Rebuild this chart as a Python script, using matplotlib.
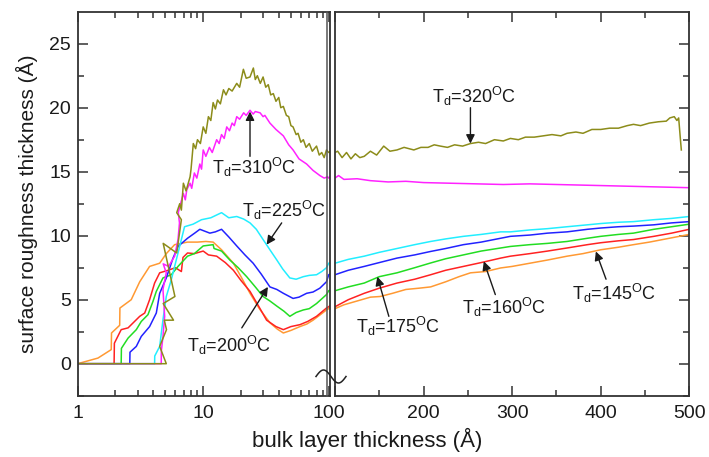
import numpy as np
import matplotlib
matplotlib.use("Agg")
import matplotlib.pyplot as plt
from matplotlib.lines import Line2D
from matplotlib.ticker import FixedLocator, NullFormatter, LogLocator

plt.rcParams['font.family'] = ['Liberation Sans', 'DejaVu Sans']
plt.rcParams['mathtext.fontset'] = 'custom'
plt.rcParams['mathtext.rm'] = 'Liberation Sans'

# ---------------- data ----------------
orange_x = [1, 1.45, 1.85, 1.86, 2.16, 2.17, 2.67, 3.12, 3.74, 4.5, 5.08, 5.92, 7.5, 9, 10.5, 12, 14, 17.4, 20, 23.6,
            28, 34, 39, 43.5, 50, 59, 67, 75, 85, 96, 100, 110, 125, 140, 151, 165, 180, 195, 208, 225, 240, 253,
            270, 287, 300, 320, 340, 362, 380, 400, 420, 437, 455, 470, 485, 500]
orange_y = [0, 0.44, 1.1, 2.4, 3.0, 4.35, 5.0, 6.4, 7.6, 7.85, 8.6, 9.3, 9.5, 9.5, 9.55, 9.5, 8.9, 7.85, 6.8, 5.5,
            4.3, 3.2, 2.7, 2.4, 2.6, 2.9, 3.1, 3.4, 3.8, 4.2, 4.3, 4.6, 4.9, 5.2, 5.25, 5.5, 5.8, 5.9, 6.0, 6.4, 6.8, 7.1,
            7.2, 7.48, 7.6, 7.85, 8.1, 8.4, 8.6, 8.9, 9.1, 9.3, 9.5, 9.7, 9.9, 10.1]

red_x = [1, 1.95, 1.96, 2.22, 2.52, 3.12, 3.42, 3.74, 4.1, 4.5, 5.25, 6.0, 6.7, 6.9, 7.5, 8.5, 10, 11, 12.8, 15,
         17.4, 20, 23.6, 28, 32, 38, 43.5, 50, 59, 68, 80, 96, 100, 115, 133, 150, 170, 190, 208, 225, 245, 265,
         287, 298, 320, 340, 362, 385, 400, 420, 437, 460, 480, 500]
red_y = [0, 0, 1.6, 2.66, 2.8, 3.7, 3.96, 5.0, 6.3, 7.1, 7.3, 7.5, 7.2, 8.3, 8.65, 8.6, 8.8, 8.5, 8.4, 7.9,
         7.3, 6.5, 5.65, 4.4, 3.4, 2.9, 2.66, 2.9, 3.05, 3.3, 3.7, 4.35, 4.45, 5.0, 5.5, 5.9, 6.3, 6.6, 6.95, 7.3, 7.6, 7.9,
         8.25, 8.4, 8.6, 8.8, 9.04, 9.3, 9.45, 9.6, 9.7, 9.95, 10.2, 10.5]

green_x = [1, 2.22, 2.23, 2.52, 2.93, 3.21, 3.63, 3.98, 4.23, 4.78, 5.57, 6.3, 7.5, 8.5, 10, 12, 12.2, 14, 16.3, 19,
           22.2, 26, 30, 34, 38.6, 44, 49, 55, 62.8, 70, 80, 96, 100, 115, 133, 150, 170, 190, 208, 225, 245, 265,
           287, 298, 320, 340, 362, 385, 400, 420, 437, 460, 480, 500]
green_y = [0, 0, 1.2, 2.0, 2.66, 3.3, 3.83, 4.87, 5.65, 6.7, 6.95, 7.6, 8.4, 8.6, 9.2, 9.3, 9.0, 8.8, 8.1, 7.5,
           6.8, 6.0, 5.25, 4.9, 4.5, 4.1, 3.7, 4.0, 4.2, 4.3, 4.7, 5.4, 5.7, 6.0, 6.3, 6.8, 7.1, 7.5, 7.87, 8.2, 8.5, 8.8,
           9.04, 9.16, 9.3, 9.4, 9.55, 9.8, 9.95, 10.1, 10.2, 10.5, 10.7, 10.9]

blue_x = [1, 2.6, 2.61, 2.93, 3.21, 3.74, 4.23, 4.5, 5.08, 5.75, 6.3, 7.5, 8.55, 9.4, 11.3, 12.5, 14, 16, 18.5, 21.5,
          25, 29, 34, 38.6, 43.5, 52, 58, 66.7, 75, 85, 96, 100, 115, 133, 150, 170, 190, 208, 225, 245, 265, 287,
          298, 320, 340, 362, 385, 400, 420, 437, 460, 480, 500]
blue_y = [0, 0, 0.9, 1.35, 2.13, 2.9, 3.96, 5.5, 6.7, 8.25, 9.16, 9.8, 10.2, 10.5, 10.2, 10.3, 10.5, 9.9, 9.2, 8.5,
          7.85, 7.0, 6.0, 5.8, 5.5, 5.1, 5.2, 5.5, 5.6, 5.9, 6.4, 6.95, 7.3, 7.6, 7.9, 8.25, 8.5, 8.77, 9.0, 9.3, 9.5, 9.8,
          9.95, 10.05, 10.2, 10.3, 10.5, 10.6, 10.7, 10.75, 10.85, 11.0, 11.1]

cyan_x = [1, 4.1, 4.11, 4.5, 4.78, 5.08, 5.57, 5.92, 6.3, 6.7, 7.1, 8.3, 9.7, 11.5, 14, 16, 18.5, 21, 23.6, 26.5,
          30, 34, 38.6, 43, 49, 55, 62.8, 70, 80, 88, 96, 100, 115, 133, 150, 170, 190, 208, 225, 245, 265, 287,
          298, 320, 340, 362, 385, 400, 420, 437, 460, 480, 500]
cyan_y = [0, 0, 0.6, 1.35, 3.44, 5.25, 6.56, 7.6, 8.65, 9.7, 10.7, 10.9, 11.25, 11.4, 11.8, 11.4, 11.5, 11.3, 11.0, 10.5,
          9.7, 8.9, 8.1, 7.4, 6.7, 6.6, 6.8, 6.9, 6.95, 7.2, 7.5, 7.85, 8.15, 8.4, 8.7, 9.0, 9.3, 9.55, 9.75, 9.95, 10.1, 10.3,
          10.3, 10.45, 10.55, 10.7, 10.85, 10.95, 11.05, 11.1, 11.25, 11.35, 11.5]

magenta_x = [1, 4.63, 4.64, 4.78, 4.93, 4.78, 5.08, 4.8, 5.3, 5.92, 6.3, 6.47, 6.33, 6.6, 6.95, 7.2, 7.4, 7.86, 8.1,
             8.5, 8.9, 9.4, 9.7, 10, 10.5, 11.2, 11.8, 12.8, 13.4, 14, 14.7, 15.4, 16.2, 17, 17.7, 18.5, 19.5, 21,
             22, 23.6, 25, 26, 28.4, 30, 31, 34, 38, 43.5, 48, 52, 58, 66.7, 75, 85, 92, 98,
             100, 104, 110, 125, 140, 160, 180, 200, 230, 260, 290, 320, 350, 380, 410, 440, 470, 500]
magenta_y = [0, 0, 1.0, 2.13, 3.7, 5.8, 7.1, 7.8, 7.6, 8.4, 9.7, 11.0, 11.8, 12.5, 13.3, 12.8, 13.6, 14.1, 13.7,
             14.9, 14.5, 15.6, 15.2, 16.7, 16.2, 16.9, 16.5, 17.5, 17.2, 17.9, 17.6, 18.5, 18.2, 18.8, 18.6, 19.3, 19.1, 19.6,
             19.4, 19.8, 19.5, 19.7, 19.6, 19.3, 19.4, 18.8, 18.3, 17.8, 17.1, 16.7, 16.0, 15.6, 15.1, 14.7, 14.5, 14.6,
             14.5, 14.7, 14.4, 14.45, 14.3, 14.2, 14.25, 14.15, 14.1, 14.05, 14.0, 14.05, 14.0, 13.95, 13.9, 13.85, 13.8, 13.75]

olive_x = [1, 5.08, 4.5, 5.1, 4.9, 5.8, 4.8, 5.95, 4.8, 6.15, 6.7, 6.15, 6.5, 6.7, 6.95, 7.3, 7.86, 8.0, 8.34, 8.7,
           9.0, 9.5, 10, 10.5, 11, 11.5, 12, 12.5, 13, 13.7, 14.5, 15.2, 16, 17, 18.5, 19.5, 20.9, 22, 23.6, 25.1,
           26, 27, 28.5, 30, 31.5, 33, 34.5, 36.2, 38, 40, 41.5, 43.5, 46, 48, 50, 52, 55, 57, 60, 62.8, 66, 70,
           74, 80, 84, 88, 92, 96,
           100, 103, 108, 113, 118, 123, 128, 133, 140, 147, 155, 162, 170, 178, 189, 197, 205, 212, 219, 227, 235,
           244, 253, 262, 270, 280, 290, 298, 307, 315, 325, 335, 345, 355, 362, 372, 380, 390, 400, 410, 420, 430,
           437, 445, 455, 465, 474, 478, 483, 486, 488, 490, 491]
olive_y = [0, 0, 1.35, 2.66, 3.4, 3.4, 4.7, 5.25, 9.4, 8.65, 11.25, 11.8, 12.5, 12.0, 14.1, 13.5, 14.6, 15.2, 17.2, 16.8,
           17.5, 17.2, 18.5, 18.0, 19.3, 19.0, 20.4, 19.9, 20.6, 20.3, 21.4, 21.0, 21.5, 21.3, 21.9, 21.6, 23.0, 22.3, 22.4, 23.1,
           22.2, 22.5, 21.9, 22.4, 21.6, 21.8, 21.0, 21.1, 20.5, 20.8, 20.0, 20.1, 19.4, 19.3, 18.6, 18.5, 17.9, 18.0, 17.3, 17.5,
           16.9, 17.2, 16.6, 17.0, 16.3, 16.5, 16.1, 16.7,
           16.5, 16.6, 16.1, 16.5, 16.0, 16.4, 16.1, 16.2, 16.6, 16.3, 17.0, 16.6, 16.7, 16.9, 16.7, 16.9, 16.9, 17.1,
           17.0, 16.9, 17.1, 17.0, 17.2, 17.3, 17.2, 17.5, 17.4, 17.6, 17.5, 17.7, 17.7, 17.8, 17.9, 17.8, 18.0, 18.1,
           18.0, 18.3, 18.3, 18.4, 18.4, 18.6, 18.7, 18.6, 18.8, 18.9, 18.95, 19.2, 19.3, 19.0, 19.2, 17.5, 16.7]

series = [
    (orange_x, orange_y, '#FF9933'),
    (red_x, red_y, '#FF2222'),
    (green_x, green_y, '#22DD22'),
    (blue_x, blue_y, '#2222FF'),
    (cyan_x, cyan_y, '#22EEFF'),
    (magenta_x, magenta_y, '#FF22FF'),
    (olive_x, olive_y, '#8C8C1A'),
]

y_ticks = [0, 5, 10, 15, 20, 25]
left_xticks = [1, 10, 100]
right_xticks = [200, 300, 400, 500]

# ---------------- figure ----------------
W, H = 709, 457
fig = plt.figure(figsize=(W / 100, H / 100), dpi=100)

def fx(px):
    return px / W

def fy(py):
    return 1 - py / H

top, bottom = 11.7, 395.7
axL = fig.add_axes([fx(77.7), fy(bottom), fx(330 - 77.7), fy(top) - fy(bottom)])
axR = fig.add_axes([fx(335), fy(bottom), fx(689.3 - 335), fy(top) - fy(bottom)])

for xs, ys, c in series:
    axL.plot(xs, ys, color=c, lw=1.1)
    axR.plot(xs, ys, color=c, lw=1.1)

axL.set_xscale('log')
axL.set_xlim(1, 102.4)
axR.set_xlim(100, 500)
for ax in (axL, axR):
    ax.set_ylim(-2.5, 27.5)
    for s in ax.spines.values():
        s.set_color('#333333')
        s.set_linewidth(1.3)

txtc = '#1a1a1a'
axL.set_yticks(y_ticks)
axL.yaxis.set_minor_locator(FixedLocator([-2.5, 2.5, 7.5, 12.5, 17.5, 22.5]))
axL.set_xticks(left_xticks)
axL.set_xticklabels([str(v) for v in left_xticks])
axL.xaxis.set_minor_locator(LogLocator(base=10, subs=np.arange(2, 10)))
axL.xaxis.set_minor_formatter(NullFormatter())
axL.tick_params(which='both', direction='in', top=True, right=False, left=True, bottom=True,
                colors='#333333', labelcolor=txtc, width=1.1)
axL.tick_params(which='major', length=7, labelsize=14, pad=7)
axL.tick_params(which='minor', length=4)
axL.tick_params(axis='y', which='major', labelsize=14, pad=5)

axR.set_xticks([100] + right_xticks)
axR.set_xticklabels([''] + [str(v) for v in right_xticks])
axR.xaxis.set_minor_locator(FixedLocator([150, 250, 350, 450]))
axR.set_yticks(y_ticks)
axR.yaxis.set_minor_locator(FixedLocator([-2.5, 2.5, 7.5, 12.5, 17.5, 22.5]))
axR.tick_params(which='both', direction='in', top=True, right=True, left=False, bottom=True,
                labelleft=False, labelright=False, colors='#333333', labelcolor=txtc, width=1.1)
axR.tick_params(which='major', length=7, labelsize=14, pad=7)
axR.tick_params(which='minor', length=4)

axL.set_ylabel('surface roughness thickness (Å)', fontsize=15, color=txtc, labelpad=8)
fig.text(fx(367), fy(440), 'bulk layer thickness (Å)', fontsize=16, color=txtc, ha='center', va='center')

# break decoration: extra line and tilde
fig.add_artist(Line2D([fx(327.3), fx(327.3)], [fy(top), fy(bottom)], color='#555555', lw=1.1))
t = np.linspace(0, 2 * np.pi, 60)
fig.add_artist(Line2D(fx(316 + 30 * t / (2 * np.pi)), fy(376.5 - 6.5 * np.sin(t)), color='#222222', lw=1.1))

# ---------------- annotations ----------------
def lab(T):
    return r'T$_\mathregular{d}$=' + T + r'$^\mathregular{O}$C'

arrow = dict(arrowstyle='-|>', color='#1a1a1a', lw=1.0, mutation_scale=13, shrinkA=0, shrinkB=0)
fs = 13

# left axes annotations
axL.annotate('', xy=(23.6, 19.7), xytext=(23.6, 16.2), arrowprops=arrow)
axL.text(25.4, 15.3, lab('310'), fontsize=fs, ha='center', va='center', color=txtc)
axL.annotate('', xy=(32, 9.3), xytext=(42.2, 11.0), arrowprops=arrow)
axL.text(44, 12.0, lab('225'), fontsize=fs, ha='center', va='center', color=txtc)
axL.annotate('', xy=(32.8, 6.0), xytext=(20.3, 2.8), arrowprops=arrow)
axL.text(16.1, 1.45, lab('200'), fontsize=fs, ha='center', va='center', color=txtc)

# right axes annotations
axR.annotate('', xy=(252.9, 17.2), xytext=(252.9, 20.0), arrowprops=arrow)
axR.text(256.6, 20.9, lab('320'), fontsize=fs, ha='center', va='center', color=txtc)
axR.annotate('', xy=(147.8, 6.8), xytext=(160.8, 3.7), arrowprops=arrow)
axR.text(171, 2.9, lab('175'), fontsize=fs, ha='center', va='center', color=txtc)
axR.annotate('', xy=(268, 8.0), xytext=(281, 5.4), arrowprops=arrow)
axR.text(291, 4.4, lab('160'), fontsize=fs, ha='center', va='center', color=txtc)
axR.annotate('', xy=(394.5, 8.77), xytext=(406, 6.6), arrowprops=arrow)
axR.text(415, 5.47, lab('145'), fontsize=fs, ha='center', va='center', color=txtc)

fig.savefig('out.png', dpi=100)
